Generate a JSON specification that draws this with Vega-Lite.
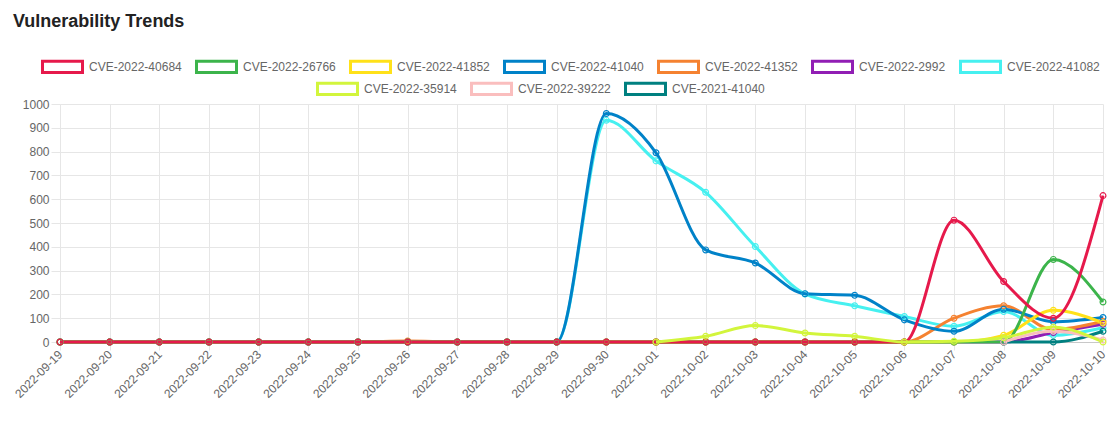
{
  "$schema": "https://vega.github.io/schema/vega-lite/v6.json",
  "width": 1043,
  "height": 238,
  "autosize": {"type": "none"},
  "padding": {"left": 60, "top": 104, "right": 15, "bottom": 86},
  "background": "white",
  "title": {"text": "Vulnerability Trends", "anchor": "start", "frame": "group", "fontSize": 18, "font": "Liberation Sans", "fontWeight": "bold", "color": "#222", "dx": -47, "baseline": "alphabetic", "offset": 0},
  "data": {"values": [
    {"cve":"CVE-2022-41082","date":"2022-09-19","count":0},{"cve":"CVE-2022-41082","date":"2022-09-20","count":0},{"cve":"CVE-2022-41082","date":"2022-09-21","count":0},{"cve":"CVE-2022-41082","date":"2022-09-22","count":0},{"cve":"CVE-2022-41082","date":"2022-09-23","count":0},{"cve":"CVE-2022-41082","date":"2022-09-24","count":0},{"cve":"CVE-2022-41082","date":"2022-09-25","count":0},{"cve":"CVE-2022-41082","date":"2022-09-26","count":0},{"cve":"CVE-2022-41082","date":"2022-09-27","count":0},{"cve":"CVE-2022-41082","date":"2022-09-28","count":0},{"cve":"CVE-2022-41082","date":"2022-09-29","count":0},{"cve":"CVE-2022-41082","date":"2022-09-30","count":932},{"cve":"CVE-2022-41082","date":"2022-10-01","count":761},{"cve":"CVE-2022-41082","date":"2022-10-02","count":629},{"cve":"CVE-2022-41082","date":"2022-10-03","count":401},{"cve":"CVE-2022-41082","date":"2022-10-04","count":202},{"cve":"CVE-2022-41082","date":"2022-10-05","count":152},{"cve":"CVE-2022-41082","date":"2022-10-06","count":107},{"cve":"CVE-2022-41082","date":"2022-10-07","count":66},{"cve":"CVE-2022-41082","date":"2022-10-08","count":128},{"cve":"CVE-2022-41082","date":"2022-10-09","count":28},{"cve":"CVE-2022-41082","date":"2022-10-10","count":60},
    {"cve":"CVE-2022-2992","date":"2022-09-19","count":0},{"cve":"CVE-2022-2992","date":"2022-09-20","count":0},{"cve":"CVE-2022-2992","date":"2022-09-21","count":0},{"cve":"CVE-2022-2992","date":"2022-09-22","count":0},{"cve":"CVE-2022-2992","date":"2022-09-23","count":0},{"cve":"CVE-2022-2992","date":"2022-09-24","count":0},{"cve":"CVE-2022-2992","date":"2022-09-25","count":0},{"cve":"CVE-2022-2992","date":"2022-09-26","count":0},{"cve":"CVE-2022-2992","date":"2022-09-27","count":0},{"cve":"CVE-2022-2992","date":"2022-09-28","count":0},{"cve":"CVE-2022-2992","date":"2022-09-29","count":0},{"cve":"CVE-2022-2992","date":"2022-09-30","count":0},{"cve":"CVE-2022-2992","date":"2022-10-01","count":0},{"cve":"CVE-2022-2992","date":"2022-10-02","count":0},{"cve":"CVE-2022-2992","date":"2022-10-03","count":0},{"cve":"CVE-2022-2992","date":"2022-10-04","count":0},{"cve":"CVE-2022-2992","date":"2022-10-05","count":0},{"cve":"CVE-2022-2992","date":"2022-10-06","count":0},{"cve":"CVE-2022-2992","date":"2022-10-07","count":0},{"cve":"CVE-2022-2992","date":"2022-10-08","count":0},{"cve":"CVE-2022-2992","date":"2022-10-09","count":40},{"cve":"CVE-2022-2992","date":"2022-10-10","count":75},
    {"cve":"CVE-2022-41352","date":"2022-09-19","count":0},{"cve":"CVE-2022-41352","date":"2022-09-20","count":0},{"cve":"CVE-2022-41352","date":"2022-09-21","count":0},{"cve":"CVE-2022-41352","date":"2022-09-22","count":0},{"cve":"CVE-2022-41352","date":"2022-09-23","count":0},{"cve":"CVE-2022-41352","date":"2022-09-24","count":0},{"cve":"CVE-2022-41352","date":"2022-09-25","count":0},{"cve":"CVE-2022-41352","date":"2022-09-26","count":4},{"cve":"CVE-2022-41352","date":"2022-09-27","count":0},{"cve":"CVE-2022-41352","date":"2022-09-28","count":0},{"cve":"CVE-2022-41352","date":"2022-09-29","count":0},{"cve":"CVE-2022-41352","date":"2022-09-30","count":0},{"cve":"CVE-2022-41352","date":"2022-10-01","count":0},{"cve":"CVE-2022-41352","date":"2022-10-02","count":0},{"cve":"CVE-2022-41352","date":"2022-10-03","count":0},{"cve":"CVE-2022-41352","date":"2022-10-04","count":0},{"cve":"CVE-2022-41352","date":"2022-10-05","count":0},{"cve":"CVE-2022-41352","date":"2022-10-06","count":0},{"cve":"CVE-2022-41352","date":"2022-10-07","count":100},{"cve":"CVE-2022-41352","date":"2022-10-08","count":152},{"cve":"CVE-2022-41352","date":"2022-10-09","count":52},{"cve":"CVE-2022-41352","date":"2022-10-10","count":87},
    {"cve":"CVE-2022-41040","date":"2022-09-19","count":0},{"cve":"CVE-2022-41040","date":"2022-09-20","count":0},{"cve":"CVE-2022-41040","date":"2022-09-21","count":0},{"cve":"CVE-2022-41040","date":"2022-09-22","count":0},{"cve":"CVE-2022-41040","date":"2022-09-23","count":0},{"cve":"CVE-2022-41040","date":"2022-09-24","count":0},{"cve":"CVE-2022-41040","date":"2022-09-25","count":0},{"cve":"CVE-2022-41040","date":"2022-09-26","count":0},{"cve":"CVE-2022-41040","date":"2022-09-27","count":0},{"cve":"CVE-2022-41040","date":"2022-09-28","count":0},{"cve":"CVE-2022-41040","date":"2022-09-29","count":0},{"cve":"CVE-2022-41040","date":"2022-09-30","count":960},{"cve":"CVE-2022-41040","date":"2022-10-01","count":795},{"cve":"CVE-2022-41040","date":"2022-10-02","count":387},{"cve":"CVE-2022-41040","date":"2022-10-03","count":332},{"cve":"CVE-2022-41040","date":"2022-10-04","count":203},{"cve":"CVE-2022-41040","date":"2022-10-05","count":196},{"cve":"CVE-2022-41040","date":"2022-10-06","count":93},{"cve":"CVE-2022-41040","date":"2022-10-07","count":45},{"cve":"CVE-2022-41040","date":"2022-10-08","count":138},{"cve":"CVE-2022-41040","date":"2022-10-09","count":85},{"cve":"CVE-2022-41040","date":"2022-10-10","count":103},
    {"cve":"CVE-2022-41852","date":"2022-09-19","count":0},{"cve":"CVE-2022-41852","date":"2022-09-20","count":0},{"cve":"CVE-2022-41852","date":"2022-09-21","count":0},{"cve":"CVE-2022-41852","date":"2022-09-22","count":0},{"cve":"CVE-2022-41852","date":"2022-09-23","count":0},{"cve":"CVE-2022-41852","date":"2022-09-24","count":0},{"cve":"CVE-2022-41852","date":"2022-09-25","count":0},{"cve":"CVE-2022-41852","date":"2022-09-26","count":0},{"cve":"CVE-2022-41852","date":"2022-09-27","count":0},{"cve":"CVE-2022-41852","date":"2022-09-28","count":0},{"cve":"CVE-2022-41852","date":"2022-09-29","count":0},{"cve":"CVE-2022-41852","date":"2022-09-30","count":0},{"cve":"CVE-2022-41852","date":"2022-10-01","count":0},{"cve":"CVE-2022-41852","date":"2022-10-02","count":0},{"cve":"CVE-2022-41852","date":"2022-10-03","count":0},{"cve":"CVE-2022-41852","date":"2022-10-04","count":0},{"cve":"CVE-2022-41852","date":"2022-10-05","count":0},{"cve":"CVE-2022-41852","date":"2022-10-06","count":0},{"cve":"CVE-2022-41852","date":"2022-10-07","count":0},{"cve":"CVE-2022-41852","date":"2022-10-08","count":28},{"cve":"CVE-2022-41852","date":"2022-10-09","count":133},{"cve":"CVE-2022-41852","date":"2022-10-10","count":80},
    {"cve":"CVE-2022-26766","date":"2022-09-19","count":0},{"cve":"CVE-2022-26766","date":"2022-09-20","count":0},{"cve":"CVE-2022-26766","date":"2022-09-21","count":0},{"cve":"CVE-2022-26766","date":"2022-09-22","count":0},{"cve":"CVE-2022-26766","date":"2022-09-23","count":0},{"cve":"CVE-2022-26766","date":"2022-09-24","count":0},{"cve":"CVE-2022-26766","date":"2022-09-25","count":0},{"cve":"CVE-2022-26766","date":"2022-09-26","count":0},{"cve":"CVE-2022-26766","date":"2022-09-27","count":0},{"cve":"CVE-2022-26766","date":"2022-09-28","count":0},{"cve":"CVE-2022-26766","date":"2022-09-29","count":0},{"cve":"CVE-2022-26766","date":"2022-09-30","count":0},{"cve":"CVE-2022-26766","date":"2022-10-01","count":0},{"cve":"CVE-2022-26766","date":"2022-10-02","count":0},{"cve":"CVE-2022-26766","date":"2022-10-03","count":0},{"cve":"CVE-2022-26766","date":"2022-10-04","count":0},{"cve":"CVE-2022-26766","date":"2022-10-05","count":0},{"cve":"CVE-2022-26766","date":"2022-10-06","count":0},{"cve":"CVE-2022-26766","date":"2022-10-07","count":0},{"cve":"CVE-2022-26766","date":"2022-10-08","count":0},{"cve":"CVE-2022-26766","date":"2022-10-09","count":347},{"cve":"CVE-2022-26766","date":"2022-10-10","count":168},
    {"cve":"CVE-2022-40684","date":"2022-09-19","count":0},{"cve":"CVE-2022-40684","date":"2022-09-20","count":0},{"cve":"CVE-2022-40684","date":"2022-09-21","count":0},{"cve":"CVE-2022-40684","date":"2022-09-22","count":0},{"cve":"CVE-2022-40684","date":"2022-09-23","count":0},{"cve":"CVE-2022-40684","date":"2022-09-24","count":0},{"cve":"CVE-2022-40684","date":"2022-09-25","count":0},{"cve":"CVE-2022-40684","date":"2022-09-26","count":0},{"cve":"CVE-2022-40684","date":"2022-09-27","count":0},{"cve":"CVE-2022-40684","date":"2022-09-28","count":0},{"cve":"CVE-2022-40684","date":"2022-09-29","count":0},{"cve":"CVE-2022-40684","date":"2022-09-30","count":0},{"cve":"CVE-2022-40684","date":"2022-10-01","count":0},{"cve":"CVE-2022-40684","date":"2022-10-02","count":0},{"cve":"CVE-2022-40684","date":"2022-10-03","count":0},{"cve":"CVE-2022-40684","date":"2022-10-04","count":0},{"cve":"CVE-2022-40684","date":"2022-10-05","count":0},{"cve":"CVE-2022-40684","date":"2022-10-06","count":0},{"cve":"CVE-2022-40684","date":"2022-10-07","count":512},{"cve":"CVE-2022-40684","date":"2022-10-08","count":254},{"cve":"CVE-2022-40684","date":"2022-10-09","count":100},{"cve":"CVE-2022-40684","date":"2022-10-10","count":615},
    {"cve":"CVE-2021-41040","date":"2022-10-08","count":0},{"cve":"CVE-2021-41040","date":"2022-10-09","count":0},{"cve":"CVE-2021-41040","date":"2022-10-10","count":45},
    {"cve":"CVE-2022-39222","date":"2022-10-08","count":0},{"cve":"CVE-2022-39222","date":"2022-10-09","count":45},{"cve":"CVE-2022-39222","date":"2022-10-10","count":8},
    {"cve":"CVE-2022-35914","date":"2022-10-01","count":0},{"cve":"CVE-2022-35914","date":"2022-10-02","count":24},{"cve":"CVE-2022-35914","date":"2022-10-03","count":69},{"cve":"CVE-2022-35914","date":"2022-10-04","count":38},{"cve":"CVE-2022-35914","date":"2022-10-05","count":24},{"cve":"CVE-2022-35914","date":"2022-10-06","count":0},{"cve":"CVE-2022-35914","date":"2022-10-07","count":3},{"cve":"CVE-2022-35914","date":"2022-10-08","count":18},{"cve":"CVE-2022-35914","date":"2022-10-09","count":62},{"cve":"CVE-2022-35914","date":"2022-10-10","count":0}
  ]},
  "encoding": {
    "x": {"field": "date", "type": "ordinal", "scale": {"type": "point", "padding": 0},
      "axis": {"title": null, "labelAngle": -45, "labelAlign": "right", "labelBaseline": "middle", "labelFontSize": 12, "labelColor": "#666", "labelFont": "Liberation Sans", "labelPadding": 2, "tickSize": 8, "tickColor": "#e6e6e6", "grid": true, "gridColor": "#e6e6e6", "domainColor": "#c8c8c8"}},
    "y": {"field": "count", "type": "quantitative", "scale": {"domain": [0, 1000], "nice": false},
      "axis": {"title": null, "format": "d", "values": [0,100,200,300,400,500,600,700,800,900,1000], "labelFontSize": 12, "labelColor": "#666", "labelFont": "Liberation Sans", "labelPadding": 2, "tickSize": 9, "tickColor": "#e6e6e6", "gridColor": "#e6e6e6", "domainColor": "#e6e6e6"}}
  },
  "layer": [
    {
      "transform": [{"filter": {"field": "cve", "oneOf": ["CVE-2022-40684", "CVE-2022-26766", "CVE-2022-41852", "CVE-2022-41040", "CVE-2022-41352", "CVE-2022-2992", "CVE-2022-41082"]}}],
      "mark": {"type": "line", "interpolate": "monotone", "strokeWidth": 3, "point": {"filled": false, "size": 34, "strokeWidth": 1.2}},
      "encoding": {"color": {"field": "cve", "type": "nominal",
        "scale": {"domain": ["CVE-2022-40684", "CVE-2022-26766", "CVE-2022-41852", "CVE-2022-41040", "CVE-2022-41352", "CVE-2022-2992", "CVE-2022-41082"], "range": ["#e6194b", "#3cb44b", "#ffe119", "#0082c8", "#f58231", "#911eb4", "#46f0f0"]},
        "legend": {"orient": "none", "legendX": -19, "legendY": -59, "direction": "horizontal", "title": null}}}
    },
    {
      "transform": [{"filter": {"field": "cve", "oneOf": ["CVE-2022-35914", "CVE-2022-39222", "CVE-2021-41040"]}}],
      "mark": {"type": "line", "interpolate": "monotone", "strokeWidth": 3, "point": {"filled": false, "size": 34, "strokeWidth": 1.2}},
      "encoding": {"color": {"field": "cve", "type": "nominal",
        "scale": {"domain": ["CVE-2022-35914", "CVE-2022-39222", "CVE-2021-41040"], "range": ["#d2f53c", "#fabebe", "#008080"]},
        "legend": {"orient": "none", "legendX": 256, "legendY": -37, "direction": "horizontal", "title": null}}}
    }
  ],
  "resolve": {"scale": {"color": "independent"}, "legend": {"color": "independent"}},
  "config": {
    "view": {"stroke": null},
    "legend": {
      "symbolType": "M-1,-0.28H1V0.28H-1Z",
      "symbolSize": 1600,
      "symbolStrokeWidth": 3,
      "symbolFillColor": "#ffffff",
      "labelFontSize": 12,
      "labelColor": "#666",
      "labelFont": "Liberation Sans",
      "labelOffset": 5,
      "columnPadding": 8,
      "padding": 0
    }
  }
}
